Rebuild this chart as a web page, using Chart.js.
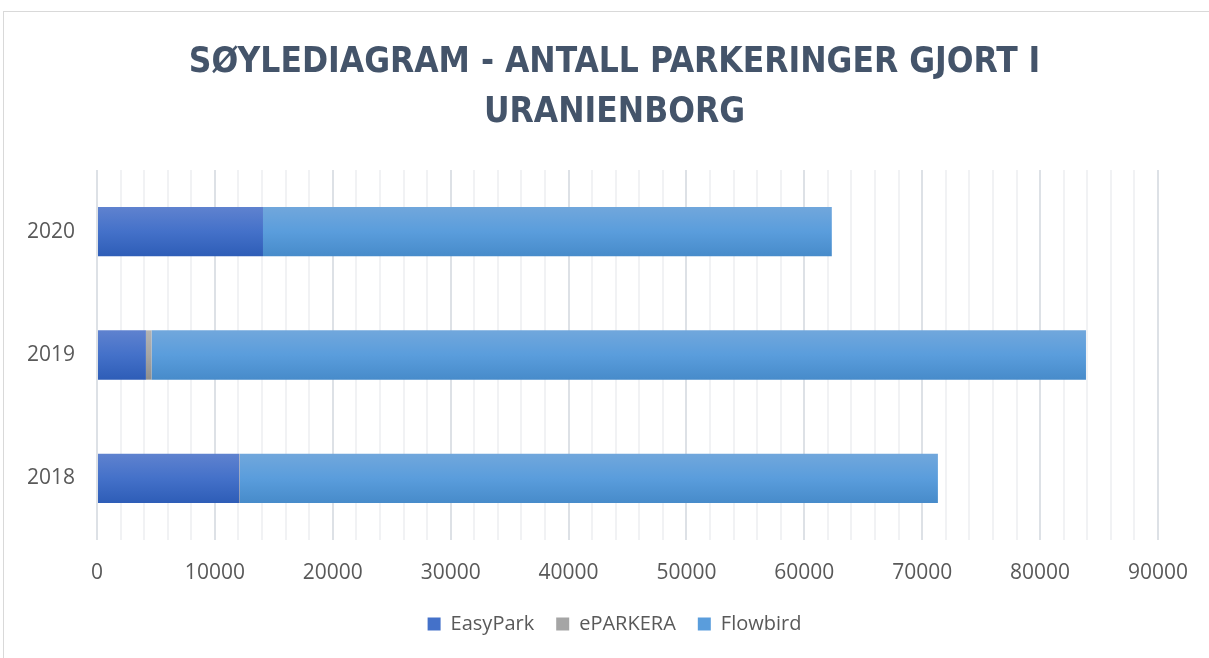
<!DOCTYPE html>
<html>
<head>
<meta charset="utf-8">
<script src="https://cdn.jsdelivr.net/npm/chart.js@4"></script>
<style>
  body { margin: 0; background: #fff; overflow: hidden; }
  #frame { position: absolute; left: 3px; top: 11px; width: 1230px; height: 700px; border: 1px solid #d9d9d9; }
  #wrap { position: absolute; left: 0; top: 0; width: 1209px; height: 658px; }
</style>
</head>
<body>
<div id="frame"></div>
<div id="wrap"><canvas id="parkChart"></canvas></div>
<script>
// data
let years = ['2020', '2019', '2018'];
let easyPark = [14080, 4150, 12070];
let eParkera = [0, 480, 60];
let flowbird = [48250, 79260, 59200];
let xTicks = [0, 10000, 20000, 30000, 40000, 50000, 60000, 70000, 80000, 90000];

// top / middle / bottom of each bar's vertical gradient
let shades = [
    ['#5f82cf', '#4471c9', '#2e5db7'],
    ['#b3b3b3', '#a5a5a5', '#8f8f8f'],
    ['#71a7dc', '#5a9ddc', '#478bca']
];

let ctx = document.getElementById('parkChart');

// each bar gets its own copy of the options so the gradient follows the bar
const barGradient = {
    id: 'barGradient',
    beforeDatasetDraw(chart, args) {
        let c = chart.ctx;
        let cols = shades[args.index];
        args.meta.data.forEach(function (bar) {
            let top = bar.y - bar.height / 2;
            let g = c.createLinearGradient(0, top, 0, top + bar.height);
            g.addColorStop(0, cols[0]);
            g.addColorStop(0.5, cols[1]);
            g.addColorStop(1, cols[2]);
            bar.options = Object.assign({}, bar.options, {backgroundColor: g});
        });
    }
};

// title and legend are centred on the whole frame, not on the padded box
const recenter = {
    id: 'recenter',
    afterLayout(chart) {
        chart.titleBlock.left = 20;
        chart.titleBlock.right = chart.width;
        chart.legend.left = 20;
        chart.legend.right = chart.width;
        chart.legend.adjustHitBoxes();
    }
};

const makeSet = (label, data, i) => {
    return {
        label: label,
        data: data,
        backgroundColor: shades[i][1],
        borderWidth: 0,
        barPercentage: 0.8,
        categoryPercentage: 0.5
    }
}

let myChart = new Chart(ctx, {
    type: 'bar',
    data: {
        labels: years,
        datasets: [
            makeSet('EasyPark', easyPark, 0),
            makeSet('ePARKERA', eParkera, 1),
            makeSet('Flowbird', flowbird, 2)
        ]
    },
    plugins: [barGradient, recenter],
    options: {
        indexAxis: 'y',
        responsive: true,
        maintainAspectRatio: false,
        animation: false,
        layout: { padding: { left: 0, right: 51, top: 0, bottom: 14 } },
        scales: {
            x: {
                stacked: true,
                min: 0,
                max: 90000,
                border: { display: false },
                grid: {
                    drawTicks: false,
                    lineWidth: 2,
                    color: (c) => (c.tick && c.tick.value % 10000 === 0) ? '#dde1e6' : '#f1f2f4'
                },
                ticks: {
                    stepSize: 2000,
                    autoSkip: false,
                    maxRotation: 0,
                    padding: 20,
                    color: '#595959',
                    font: { family: 'Open Sans', size: 21 },
                    callback: (v) => xTicks.includes(v) ? String(v) : ''
                },
                afterFit: (scale) => { scale.height = 52; }
            },
            y: {
                stacked: true,
                border: { display: false },
                grid: { display: false },
                ticks: {
                    padding: 14,
                    color: '#595959',
                    font: { family: 'Open Sans', size: 21 }
                },
                afterFit: (scale) => { scale.width = 97; }
            }
        },
        plugins: {
            title: {
                display: true,
                text: ['SØYLEDIAGRAM - ANTALL PARKERINGER GJORT I', 'URANIENBORG'],
                color: '#44546a',
                font: { family: 'DejaVu Sans Condensed', size: 35, weight: 'bold', lineHeight: 50 / 35 },
                padding: { top: 38, bottom: 32 }
            },
            legend: {
                position: 'bottom',
                labels: {
                    boxWidth: 13,
                    boxHeight: 13,
                    padding: 22,
                    color: '#595959',
                    font: { family: 'Open Sans', size: 20 }
                }
            },
            tooltip: { enabled: false }
        }
    }
});
</script>
</body>
</html>
